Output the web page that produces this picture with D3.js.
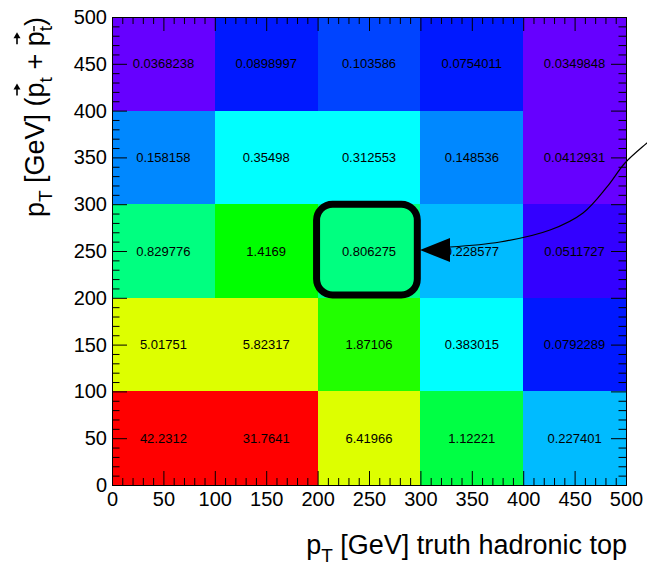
<html lang="en">
<head>
<meta charset="utf-8">
<title>pT correlation</title>
<script src="https://cdn.jsdelivr.net/npm/d3@7"></script>
<style>
  body { margin: 0; background: #fff; }
  text { font-family: "Liberation Sans", Arial, sans-serif; }
</style>
</head>
<body>
<script>
// bin edges (GeV), same for both axes
var xEdges = [0, 100, 200, 300, 400, 500];
var yEdges = [0, 100, 200, 300, 400, 500];

// cell contents, one array per y bin, from bottom to top
var row0to100   = [42.2312, 31.7641, 6.41966, 1.12221, 0.227401];
var row100to200 = [5.01751, 5.82317, 1.87106, 0.383015, 0.0792289];
var row200to300 = [0.829776, 1.4169, 0.806275, 0.228577, 0.0511727];
var row300to400 = [0.158158, 0.35498, 0.312553, 0.148536, 0.0412931];
var row400to500 = [0.0368238, 0.0898997, 0.103586, 0.0754011, 0.0349848];
var rows = [row0to100, row100to200, row200to300, row300to400, row400to500];

var majorTicks = d3.range(0, 501, 50);
var minorTicks = d3.range(0, 501, 10).filter(function(d) { return d % 50 != 0; });

// 20 contour colours, log z
var palette = ["#6600ff", "#3300ff", "#0019ff", "#0044ff", "#0088ff",
               "#00bbff", "#00ffff", "#00ffbb", "#00ff80", "#00ff44",
               "#00ff00", "#22ff00", "#66ff00", "#aaff00", "#ddff00",
               "#ffee00", "#ffbb00", "#ff8800", "#ff4400", "#ff0000"];
var zMin = 0.034, zMax = 42.2312;

// highlighted bin and the arrow pointing at it (data units)
var boxX = [199, 297], boxY = [203, 300];
var arrowCurve = [[328.8, 254.3], [377.4, 259.6], [426.1, 272.4], [458.2, 290.6],
                  [481.5, 318.4], [499, 344], [520.4, 365.4], [538, 381.4]];
var arrowHead = [[299.6, 251], [328.8, 263.9], [328.8, 238.2]];

var w = 647, h = 566;
var svg = d3.select("body").append("svg").attr("width", w).attr("height", h);

var x = d3.scaleLinear().domain([0, 500]).range([112, 626]);
var y = d3.scaleLinear().domain([0, 500]).range([485, 17]);
var color = d3.scaleQuantize()
  .domain([Math.log10(zMin), Math.log10(zMax)])
  .range(palette);
var fmt = d3.format(".6~g");

var cells = [];
rows.forEach(function(r, j) {
  r.forEach(function(v, i) {
    cells.push({x0: xEdges[i], x1: xEdges[i + 1], y0: yEdges[j], y1: yEdges[j + 1], v: v});
  });
});

svg.selectAll("rect.cell")
  .data(cells)
  .enter()
  .append("rect")
  .attr("class", "cell")
  .attr("x", function(d) { return x(d.x0); })
  .attr("y", function(d) { return y(d.y1); })
  .attr("width", function(d) { return x(d.x1) - x(d.x0); })
  .attr("height", function(d) { return y(d.y0) - y(d.y1); })
  .attr("fill", function(d) { return color(Math.log10(d.v)); })
  .attr("shape-rendering", "crispEdges");

svg.selectAll("text.val")
  .data(cells)
  .enter()
  .append("text")
  .attr("class", "val")
  .attr("x", function(d) { return x((d.x0 + d.x1) / 2); })
  .attr("y", function(d) { return y((d.y0 + d.y1) / 2) + 4.6; })
  .attr("text-anchor", "middle")
  .attr("font-size", 13)
  .attr("fill", "#000")
  .text(function(d) { return fmt(d.v); });

function styleAxis(g) {
  g.select(".domain").remove();
  g.selectAll("line").attr("stroke", "#000");
  g.selectAll("text").attr("font-size", 20).attr("fill", "#000")
   .attr("font-family", "'Liberation Sans', Arial, sans-serif");
}

// bottom
svg.append("g").attr("transform", "translate(0," + y(0) + ")")
  .call(d3.axisBottom(x).tickValues(majorTicks).tickSize(-14).tickPadding(7).tickFormat(d3.format("d")))
  .call(styleAxis);
svg.append("g").attr("transform", "translate(0," + y(0) + ")")
  .call(d3.axisBottom(x).tickValues(minorTicks).tickSize(-7).tickFormat(""))
  .call(styleAxis);
// top
svg.append("g").attr("transform", "translate(0," + y(500) + ")")
  .call(d3.axisTop(x).tickValues(majorTicks).tickSize(-14).tickFormat(""))
  .call(styleAxis);
svg.append("g").attr("transform", "translate(0," + y(500) + ")")
  .call(d3.axisTop(x).tickValues(minorTicks).tickSize(-7).tickFormat(""))
  .call(styleAxis);
// left
svg.append("g").attr("transform", "translate(" + x(0) + ",0)")
  .call(d3.axisLeft(y).tickValues(majorTicks).tickSize(-15).tickPadding(5).tickFormat(d3.format("d")))
  .call(styleAxis);
svg.append("g").attr("transform", "translate(" + x(0) + ",0)")
  .call(d3.axisLeft(y).tickValues(minorTicks).tickSize(-7.5).tickFormat(""))
  .call(styleAxis);
// right
svg.append("g").attr("transform", "translate(" + x(500) + ",0)")
  .call(d3.axisRight(y).tickValues(majorTicks).tickSize(-15).tickFormat(""))
  .call(styleAxis);
svg.append("g").attr("transform", "translate(" + x(500) + ",0)")
  .call(d3.axisRight(y).tickValues(minorTicks).tickSize(-7.5).tickFormat(""))
  .call(styleAxis);

// frame
svg.append("rect")
  .attr("x", x(0)).attr("y", y(500))
  .attr("width", x(500) - x(0)).attr("height", y(0) - y(500))
  .attr("fill", "none").attr("stroke", "#000").attr("stroke-width", 1)
  .attr("shape-rendering", "crispEdges");

// highlight box
svg.append("rect")
  .attr("x", x(boxX[0])).attr("y", y(boxY[1]))
  .attr("width", x(boxX[1]) - x(boxX[0]))
  .attr("height", y(boxY[0]) - y(boxY[1]))
  .attr("rx", 16).attr("ry", 16)
  .attr("fill", "none").attr("stroke", "#000").attr("stroke-width", 7);

// arrow
var line = d3.line().x(function(d) { return x(d[0]); }).y(function(d) { return y(d[1]); });
svg.append("path")
  .attr("d", line.curve(d3.curveCatmullRom)(arrowCurve))
  .attr("fill", "none").attr("stroke", "#000").attr("stroke-width", 1.2);
svg.append("path")
  .attr("d", d3.line().x(function(d) { return x(d[0]); }).y(function(d) { return y(d[1]); })(arrowHead) + "Z")
  .attr("fill", "#000");

// x title
var xt = svg.append("text")
  .attr("x", 627).attr("y", 554)
  .attr("text-anchor", "end")
  .attr("font-size", 27).attr("fill", "#000");
xt.append("tspan").text("p");
xt.append("tspan").attr("font-size", 19).attr("dy", 8).text("T");
xt.append("tspan").attr("dy", -8).text(" [GeV] truth hadronic top");

// y title (rotated), with vector arrows over the p's
var yg = svg.append("g").attr("transform", "translate(44,17) rotate(-90)");
var yt = yg.append("text")
  .attr("x", 0).attr("y", 0)
  .attr("text-anchor", "end")
  .attr("font-size", 27).attr("fill", "#000");
yt.append("tspan").text("p");
yt.append("tspan").attr("font-size", 19).attr("dy", 8).text("T");
yt.append("tspan").attr("dy", -8).text(" [GeV] (");
yt.append("tspan").text("p");
yt.append("tspan").attr("font-size", 19).attr("dy", 8).text("t");
yt.append("tspan").attr("dy", -8).text(" + ");
yt.append("tspan").text("p");
yt.append("tspan").attr("font-size", 19).attr("dy", 8).text("t");
yt.append("tspan").attr("dy", -8).text(")");

var node = yt.node();
[10, 15].forEach(function(ci) {
  var e = node.getExtentOfChar(ci);
  var x0 = e.x + 2, x1 = e.x + e.width - 1, yy = -27;
  yg.append("line")
    .attr("x1", x0).attr("x2", x1 - 3).attr("y1", yy).attr("y2", yy)
    .attr("stroke", "#000").attr("stroke-width", 1.6);
  yg.append("path")
    .attr("d", "M" + x1 + "," + yy + "L" + (x1 - 6) + "," + (yy - 3.5) + "L" + (x1 - 6) + "," + (yy + 3.5) + "Z")
    .attr("fill", "#000");
});
// bar over the last subscript t
var tb = node.getExtentOfChar(16);
yg.append("line")
  .attr("x1", tb.x).attr("x2", tb.x + tb.width)
  .attr("y1", -10).attr("y2", -10)
  .attr("stroke", "#000").attr("stroke-width", 1.5);
</script>
</body>
</html>
